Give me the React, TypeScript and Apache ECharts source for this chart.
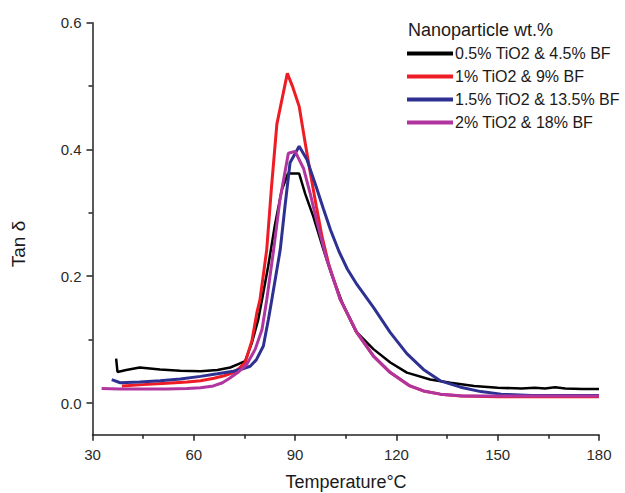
import React, { useEffect, useRef } from "react";
import * as echarts from "echarts";

const seriesNames = [
  "0.5% TiO2 & 4.5% BF",
  "1% TiO2 & 9% BF",
  "1.5% TiO2 & 13.5% BF",
  "2% TiO2 & 18% BF",
];
const seriesColors = ["#000000", "#ee1c25", "#2e3192", "#b1359f"];

const yTickValues = [0, 0.2, 0.4, 0.6];
const yMinorTickValues = [0.1, 0.3, 0.5];

// [temperature °C, tan δ]
const black05: number[][] = [
  [37.0, 0.070], [37.4, 0.049], [40, 0.052], [44, 0.056], [50, 0.053], [56, 0.051],
  [62, 0.050], [67, 0.052], [70.8, 0.056], [73, 0.061], [75.2, 0.066], [77.2, 0.095],
  [79.1, 0.132], [80.2, 0.163], [82, 0.215], [84, 0.28], [86, 0.335], [87.9, 0.362],
  [91.2, 0.362], [93, 0.33], [95.4, 0.294], [98.4, 0.242], [101, 0.2], [104, 0.158],
  [108, 0.113], [113.2, 0.085], [118.2, 0.064], [123.1, 0.048], [130, 0.037],
  [136, 0.032], [143, 0.027], [150, 0.024], [157, 0.023], [161, 0.024], [164, 0.023],
  [167, 0.025], [170, 0.023], [175, 0.022], [180, 0.022],
];
const red1: number[][] = [
  [38.7, 0.027], [45, 0.029], [52, 0.031], [58, 0.033], [62, 0.035], [66, 0.039],
  [69, 0.043], [71.7, 0.048], [73.5, 0.055], [75.2, 0.064], [77.2, 0.098], [78.7, 0.143],
  [79.6, 0.163], [81.6, 0.242], [83, 0.34], [84.6, 0.44], [87.7, 0.52], [89.2, 0.5],
  [91.2, 0.468], [93, 0.41], [94.6, 0.36], [96.3, 0.31], [98, 0.262], [100, 0.218],
  [103.4, 0.163], [108.3, 0.111], [113.2, 0.074], [118.2, 0.048], [124, 0.027],
  [128, 0.019], [133, 0.014], [139, 0.011], [150, 0.010], [165, 0.010], [180, 0.010],
];
const blue15: number[][] = [
  [35.7, 0.037], [38.2, 0.032], [44, 0.033], [50, 0.035], [56, 0.038], [62, 0.042],
  [67, 0.046], [71.7, 0.050], [74.5, 0.054], [76.7, 0.058], [78.5, 0.068], [80.6, 0.090],
  [82.1, 0.132], [83.1, 0.163], [85.6, 0.242], [87, 0.31], [88.5, 0.379], [91.2, 0.405],
  [93.5, 0.384], [96, 0.345], [98.4, 0.306], [100.5, 0.273], [103, 0.239],
  [105.5, 0.211], [108.3, 0.187], [113.2, 0.151], [118.2, 0.111], [123.1, 0.078],
  [128, 0.053], [133, 0.035], [139, 0.025], [145, 0.018], [151, 0.014], [160, 0.012],
  [180, 0.012],
];
const magenta2: number[][] = [
  [32.7, 0.023], [38, 0.022], [45, 0.022], [52, 0.022], [58, 0.023], [62, 0.024],
  [65.8, 0.027], [68.5, 0.032], [70.6, 0.039], [73, 0.048], [75.7, 0.061], [78.2, 0.085],
  [80.2, 0.116], [81.6, 0.163], [83.6, 0.24], [85.5, 0.32], [88, 0.394], [90, 0.397],
  [92.5, 0.37], [94.5, 0.33], [96.5, 0.285], [99.4, 0.226], [103.4, 0.163],
  [108.3, 0.111], [113.2, 0.074], [118.2, 0.048], [124, 0.027], [128, 0.019],
  [133, 0.014], [140, 0.011], [150, 0.011], [165, 0.011], [180, 0.011],
];
const seriesData = [black05, red1, blue15, magenta2];
const lineWidths = [2.5, 3, 3, 3];

export default function App() {
  const ref = useRef<HTMLDivElement>(null);
  useEffect(() => {
    if (!ref.current) return;
    const chart = echarts.init(ref.current, null, { renderer: "svg" });
    const axisColor = "#222";
    const font = "Liberation Sans, Arial, sans-serif";
    chart.setOption({
      animation: false,
      backgroundColor: "#ffffff",
      textStyle: { fontFamily: font },
      grid: { left: 92.5, right: 26, top: 22.7, bottom: 58.3, containLabel: false },
      title: {
        text: "Nanoparticle wt.%",
        left: 408,
        top: 21,
        textStyle: { fontSize: 18, fontWeight: "normal", color: "#1a1a1a", fontFamily: font },
        padding: 0,
      },
      legend: {
        orient: "vertical",
        left: 407,
        top: 45,
        padding: 0,
        itemWidth: 46,
        itemHeight: 4,
        itemGap: 6,
        icon: "rect",
        textStyle: { fontSize: 16, color: "#1a1a1a", lineHeight: 17, padding: [0, 0, 0, -3] },
        data: seriesNames,
      },
      xAxis: [
        {
          type: "value",
          min: 30,
          max: 180,
          interval: 30,
          splitLine: { show: false },
          axisLine: { show: true, onZero: false, lineStyle: { color: axisColor, width: 1.5 } },
          axisTick: { show: true, length: 6, lineStyle: { color: axisColor, width: 1.5 } },
          minorTick: { show: true, splitNumber: 2, length: 4, lineStyle: { color: axisColor, width: 1.5 } },
          axisLabel: { fontSize: 15, color: "#2a2a2a", margin: 12 },
        },
      ],
      yAxis: [
        {
          type: "value",
          min: -0.05,
          max: 0.6,
          position: "left",
          splitLine: { show: false },
          axisLine: { show: true, onZero: false, lineStyle: { color: axisColor, width: 1.5 } },
          axisTick: { show: true, length: 6, customValues: yTickValues, lineStyle: { color: axisColor, width: 1.5 } },
          axisLabel: {
            fontSize: 15,
            color: "#2a2a2a",
            margin: 11,
            customValues: yTickValues,
            formatter: (v: number) => v.toFixed(1),
          },
        },
        {
          type: "value",
          min: -0.05,
          max: 0.6,
          position: "left",
          offset: 0,
          splitLine: { show: false },
          axisLine: { show: false },
          axisTick: { show: true, length: 4, customValues: yMinorTickValues, lineStyle: { color: axisColor, width: 1.5 } },
          axisLabel: { show: false, customValues: yMinorTickValues },
        },
      ],
      graphic: [
        {
          type: "text",
          x: 346,
          y: 482,
          style: {
            text: "Temperature°C",
            fontSize: 18,
            fontFamily: font,
            fill: "#1a1a1a",
            align: "center",
            verticalAlign: "middle",
          },
        },
        {
          type: "text",
          x: 18,
          y: 244,
          rotation: Math.PI / 2,
          style: {
            text: "Tan δ",
            fontSize: 19,
            fontFamily: font,
            fill: "#1a1a1a",
            align: "center",
            verticalAlign: "middle",
          },
        },
      ],
      series: seriesNames.map((name, i) => ({
        name,
        type: "line",
        data: seriesData[i],
        xAxisIndex: 0,
        yAxisIndex: 0,
        showSymbol: false,
        symbol: "none",
        smooth: false,
        color: seriesColors[i],
        lineStyle: { color: seriesColors[i], width: lineWidths[i] },
        z: [2, 3, 4, 5][i],
      })),
    });
    return () => chart.dispose();
  }, []);
  return <div ref={ref} style={{ width: 625, height: 493, position: "absolute", left: 0, top: 0 }} />;
}
